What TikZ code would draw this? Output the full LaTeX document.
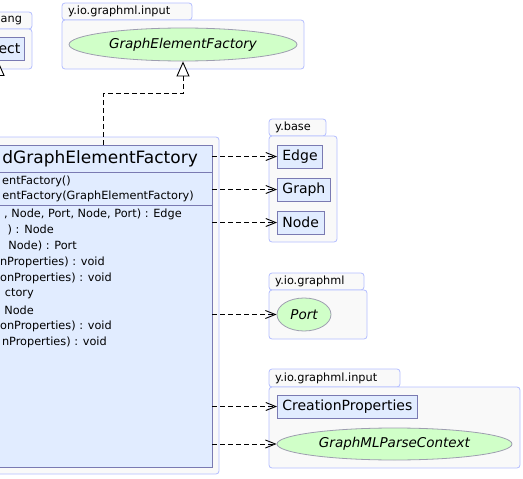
\documentclass[tikz,border=0pt]{standalone}
\usepackage{fontspec}
\setmainfont{DejaVu Sans}
\usetikzlibrary{arrows.meta, shapes.geometric}

\definecolor{pkgline}{RGB}{180,190,255}
\definecolor{pkgfill}{RGB}{249,249,249}
\definecolor{clsfill}{RGB}{225,236,255}
\definecolor{clsline}{RGB}{122,122,178}
\definecolor{ifcfill}{RGB}{208,255,200}
\definecolor{ifcline}{RGB}{158,158,176}

\newcommand{\pkgfont}{\fontsize{11.3}{13}\selectfont}
\newcommand{\clsfont}{\fontsize{14}{16}\selectfont}
\newcommand{\ifcfont}{\fontsize{13.5}{16}\selectfont\itshape}
\newcommand{\memfont}{\fontsize{11.3}{14}\selectfont}
\newcommand{\headfont}{\fontsize{17}{20}\selectfont}

\begin{document}
\begin{tikzpicture}[x=1pt, y=-1pt,
    pkg/.style={draw=pkgline, fill=pkgfill, line width=0.8pt, rounded corners=3pt},
    pkglabel/.style={anchor=west, inner sep=0pt, font=\pkgfont},
    cls/.style={draw=clsline, fill=clsfill, line width=0.8pt, anchor=west,
        minimum height=23pt, inner xsep=5pt, inner ysep=0pt, font=\clsfont},
    ifc/.style={ellipse, draw=ifcline, fill=ifcfill, line width=0.8pt,
        inner sep=0pt, font=\ifcfont},
    member/.style={anchor=east, inner sep=0pt, font=\memfont},
    dep/.style={line width=0.9pt, dash pattern=on 5pt off 3pt,
        -{Straight Barb[length=10pt, width=8pt]}},
    impl/.style={line width=0.9pt, dash pattern=on 5pt off 3pt,
        -{Triangle[open, length=15pt, width=13pt, fill=white]}}]
    \useasboundingbox (0,0) rectangle (523,479);
    \clip (0,0) rectangle (523,479);

    % packages
    \draw[pkg] (-30,12) rectangle (32,29);
    \draw[pkg] (-30,29) rectangle (32,69);
    \node[pkglabel] at (0.5,20.5) {ang};

    \draw[pkg] (62,3) rectangle (192,20);
    \draw[pkg] (62,20) rectangle (304,69);
    \node[pkglabel] at (68,11.5) {y.io.graphml.input};

    \draw[pkg] (-14,137) rectangle (219,474);

    \draw[pkg] (269,119) rectangle (326,136);
    \draw[pkg] (269,136) rectangle (337,242);
    \node[pkglabel] at (275,127.5) {y.base};

    \draw[pkg] (269,273) rectangle (364,290);
    \draw[pkg] (269,290) rectangle (367,339);
    \node[pkglabel] at (275,281.5) {y.io.graphml};

    \draw[pkg] (269,369) rectangle (400,387);
    \draw[pkg] (269,387) rectangle (520,468);
    \node[pkglabel] at (275,378) {y.io.graphml.input};

    % class box
    \node[draw=clsline, fill=clsfill, line width=0.8pt, inner sep=0pt,
        minimum width=218pt, minimum height=322pt] (factory) at (103,306) {};
    \draw[clsline, line width=0.8pt] (-6,172) -- (212,172);
    \draw[clsline, line width=0.8pt] (-6,205) -- (212,205);

    % members
    \node[member, font=\headfont] at (198,158.5) {dGraphElementFactory};
    \node[member] at (71,181) {entFactory()};
    \node[member] at (194,196) {entFactory(GraphElementFactory)};
    \node[member] at (182,214) {, Node, Port, Node, Port) : Edge};
    \node[member] at (54,230) {) : Node};
    \node[member] at (77,246) {Node) : Port};
    \node[member] at (105,262) {nProperties) : void};
    \node[member] at (112,278) {onProperties) : void};
    \node[member] at (34,294) {ctory};
    \node[member] at (34,310) {Node};
    \node[member] at (112,326) {onProperties) : void};
    \node[member] at (107,342) {nProperties) : void};

    % types
    \node[cls, anchor=east, minimum width=53pt] (object) at (25,49) {};
    \node[anchor=east, inner sep=0pt, font=\clsfont] at ([xshift=-4.5pt]object.east) {ect};
    \node[ifc, minimum width=228pt, minimum height=33pt] (gef) at (183,44.5) {GraphElementFactory};
    \node[cls] (edge) at (277,156.5) {Edge};
    \node[cls] (graph) at (277,189.5) {Graph};
    \node[cls] (node) at (277,222.5) {Node};
    \node[ifc, minimum width=54pt, minimum height=33pt] (port) at (304,314.5) {Port};
    \node[cls] (props) at (277,406.5) {CreationProperties};
    \node[ifc, minimum width=235pt, minimum height=32pt] (context) at (394.5,444) {GraphMLParseContext};

    % connectors
    \draw[impl] (factory.north) -- ++(0,-51) -| (gef.south);
    \draw[impl] (factory.north -| object.south) -- (object.south);
    \draw[dep] (edge.west -| factory.east) -- (edge.west);
    \draw[dep] (graph.west -| factory.east) -- (graph.west);
    \draw[dep] (node.west -| factory.east) -- (node.west);
    \draw[dep] (port.west -| factory.east) -- (port.west);
    \draw[dep] (props.west -| factory.east) -- (props.west);
    \draw[dep] (context.west -| factory.east) -- (context.west);
\end{tikzpicture}
\end{document}
